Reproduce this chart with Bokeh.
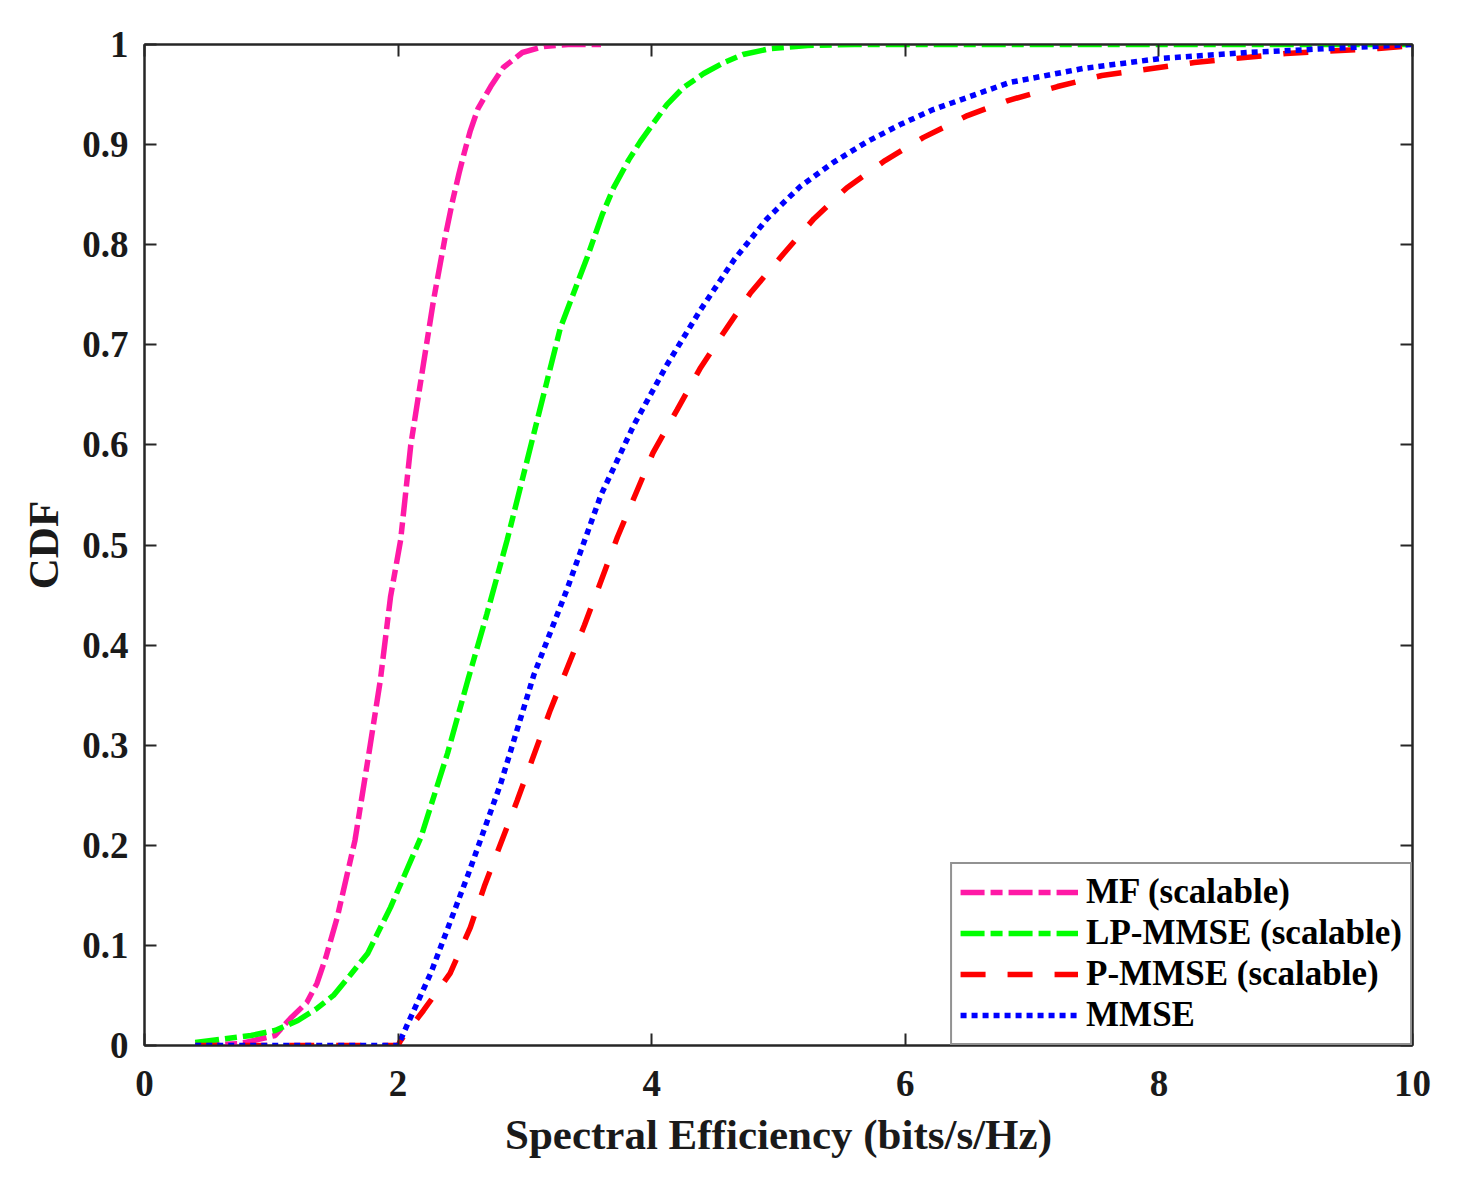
from bokeh.plotting import figure
from bokeh.models import LinearAxis, FixedTicker, Legend
from bokeh.embed import file_html
from bokeh.resources import INLINE

# ---- data ----
mf_x = [0.4, 0.76, 1.03, 1.15, 1.28, 1.36, 1.43, 1.52, 1.66, 1.77, 1.86, 1.94, 2.02, 2.10, 2.20, 2.28,
        2.37, 2.43, 2.48, 2.52, 2.57, 2.63, 2.73, 2.83, 2.98, 3.15, 3.34, 3.6]
mf_y = [0.0, 0.002, 0.01, 0.027, 0.043, 0.062, 0.088, 0.128, 0.205, 0.292, 0.365, 0.448, 0.505, 0.6, 0.681, 0.745,
        0.807, 0.844, 0.871, 0.891, 0.914, 0.936, 0.958, 0.977, 0.992, 0.998, 1.0, 1.0]

lp_x = [0.4, 0.84, 1.03, 1.21, 1.36, 1.49, 1.62, 1.76, 1.94, 2.18, 2.39, 2.55, 2.70, 2.86, 3.07, 3.28, 3.49,
        3.61, 3.70, 3.82, 3.91, 4.0, 4.12, 4.25, 4.41, 4.57, 4.72, 4.94, 5.23, 5.6, 10.0]
lp_y = [0.003, 0.01, 0.015, 0.025, 0.037, 0.05, 0.07, 0.092, 0.138, 0.208, 0.292, 0.365, 0.431, 0.505, 0.611, 0.717, 0.787,
        0.83, 0.857, 0.885, 0.903, 0.919, 0.94, 0.957, 0.971, 0.982, 0.99, 0.996, 0.999, 1.0, 1.0]

pm_x = [0.4, 2.0, 2.02, 2.2, 2.41, 2.57, 2.68, 2.94, 3.20, 3.47, 3.73, 4.01, 4.20, 4.38, 4.54, 4.78, 5.04, 5.28,
        5.54, 5.84, 6.14, 6.49, 6.81, 7.2, 7.55, 8.28, 9.0, 9.73, 10.0]
pm_y = [0.0, 0.0, 0.005, 0.035, 0.072, 0.118, 0.159, 0.245, 0.335, 0.42, 0.508, 0.592, 0.635, 0.676, 0.707, 0.752, 0.791, 0.826,
        0.857, 0.884, 0.907, 0.929, 0.944, 0.958, 0.969, 0.982, 0.991, 0.996, 0.999]

mm_x = [0.4, 2.0, 2.07, 2.26, 2.49, 2.55, 2.81, 3.07, 3.33, 3.60, 3.86, 4.12, 4.38, 4.65, 4.91, 5.17, 5.43, 5.70,
        5.96, 6.22, 6.82, 7.4, 8.01, 8.7, 9.35, 10.0]
mm_y = [0.0, 0.0, 0.02, 0.073, 0.15, 0.17, 0.262, 0.37, 0.455, 0.55, 0.62, 0.68, 0.734, 0.785, 0.826, 0.858, 0.882, 0.903,
        0.92, 0.935, 0.962, 0.976, 0.986, 0.992, 0.996, 1.0]

series_names = ["MF (scalable)", "LP-MMSE (scalable)", "P-MMSE (scalable)", "MMSE"]

x_ticks = [0, 2, 4, 6, 8, 10]
y_ticks = [0, 0.1, 0.2, 0.3, 0.4, 0.5, 0.6, 0.7, 0.8, 0.9, 1.0]
y_tick_labels = ["0", "0.1", "0.2", "0.3", "0.4", "0.5", "0.6", "0.7", "0.8", "0.9", "1"]

x_label = "Spectral Efficiency (bits/s/Hz)"
y_label = "CDF"

# ---- styling ----
FONT = "Liberation Serif"
AX = "#262626"
TXT = "#1a1a1a"

p = figure(width=1442, height=1173, x_range=(0, 10), y_range=(0, 1),
           output_backend="svg", toolbar_location=None,
           min_border_left=144, min_border_top=44, min_border_right=30, min_border_bottom=128)
p.background_fill_color = "white"
p.border_fill_color = "white"
p.outline_line_color = AX
p.outline_line_width = 2
p.xgrid.visible = False
p.ygrid.visible = False


def style_axis(ax, show_labels=True):
    ax.axis_line_color = AX
    ax.axis_line_width = 2
    ax.major_tick_line_color = AX
    ax.major_tick_line_width = 2
    ax.major_tick_in = 12
    ax.major_tick_out = 0
    ax.minor_tick_line_color = None
    ax.major_label_text_font = FONT
    ax.major_label_text_font_style = "bold"
    if show_labels:
        ax.major_label_text_color = TXT
        ax.major_label_text_font_size = "37px"
    else:
        ax.major_label_text_color = None
        ax.major_label_text_font_size = "1px"
        ax.major_label_standoff = 0
    ax.axis_label_text_font = FONT
    ax.axis_label_text_font_style = "bold"
    ax.axis_label_text_font_size = "43px"
    ax.axis_label_text_color = TXT


p.xaxis.ticker = FixedTicker(ticks=x_ticks)
p.yaxis.ticker = FixedTicker(ticks=y_ticks)
p.yaxis.major_label_overrides = {t: l for t, l in zip(y_ticks, y_tick_labels)}
style_axis(p.xaxis[0])
style_axis(p.yaxis[0])
p.xaxis.axis_label = x_label
p.yaxis.axis_label = y_label
p.xaxis.major_label_standoff = 25
p.xaxis.axis_label_standoff = 12
p.yaxis.major_label_standoff = 16
p.yaxis.axis_label_standoff = 12

top = LinearAxis(ticker=FixedTicker(ticks=x_ticks))
right = LinearAxis(ticker=FixedTicker(ticks=y_ticks))
style_axis(top, show_labels=False)
style_axis(right, show_labels=False)
p.add_layout(top, "above")
p.add_layout(right, "right")

LW = 5.5
r1 = p.line(mf_x, mf_y, line_color="#ff19a6", line_width=LW, line_dash="24 6 12 6")
r2 = p.line(lp_x, lp_y, line_color="#00ff00", line_width=LW, line_dash="24 6 12 6")
r3 = p.line(pm_x, pm_y, line_color="#ff0000", line_width=LW, line_dash="25 22")
r4 = p.line(mm_x, mm_y, line_color="#0000ff", line_width=LW, line_dash="6 5")

legend = Legend(items=[(series_names[0], [r1]), (series_names[1], [r2]),
                       (series_names[2], [r3]), (series_names[3], [r4])],
                location="bottom_right")
legend.margin = 0
legend.padding = 8
legend.spacing = 1
legend.glyph_width = 118
legend.glyph_height = 34
legend.label_height = 34
legend.label_standoff = 8
legend.label_text_font = FONT
legend.label_text_font_style = "bold"
legend.label_text_font_size = "35px"
legend.label_text_color = "#000000"
legend.border_line_color = AX
legend.border_line_width = 2
legend.background_fill_color = "white"
legend.background_fill_alpha = 1.0
p.add_layout(legend, "center")

open("out.html", "w").write(file_html(p, INLINE))
